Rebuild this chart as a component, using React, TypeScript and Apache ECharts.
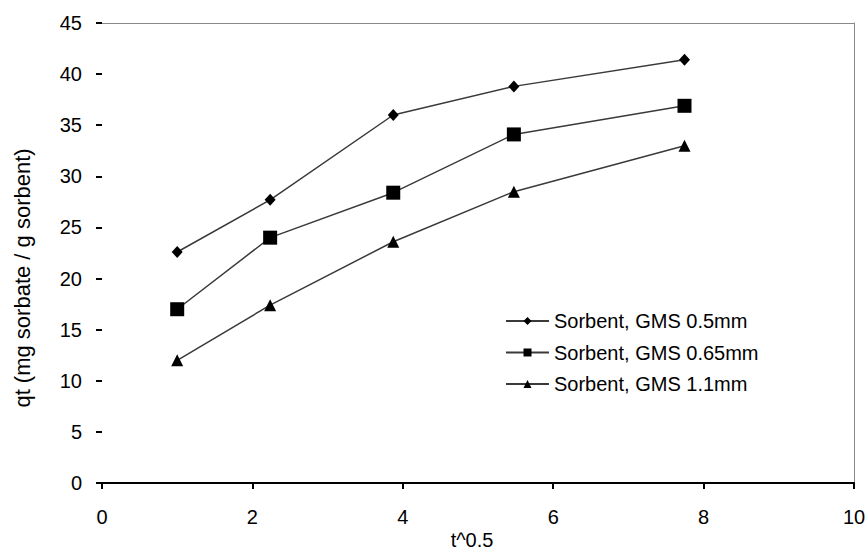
import React, { useEffect, useRef } from "react";
import * as echarts from "echarts";

const xValues = [1.0, 2.236, 3.873, 5.477, 7.746];
const seriesNames = ["Sorbent, GMS 0.5mm", "Sorbent, GMS 0.65mm", "Sorbent, GMS 1.1mm"];
const s05 = [22.6, 27.7, 36.0, 38.8, 41.4];
const s065 = [17.0, 24.0, 28.4, 34.1, 36.9];
const s11 = [12.0, 17.4, 23.6, 28.5, 33.0];
const xTicks = [0, 2, 4, 6, 8, 10];
const yTicks = [0, 5, 10, 15, 20, 25, 30, 35, 40, 45];
const xTitle = "t^0.5";
const yTitle = "qt (mg sorbate / g sorbent)";

const FONT = "Liberation Sans";

export default function App() {
  const ref = useRef<HTMLDivElement>(null);
  useEffect(() => {
    if (!ref.current) return;
    const chart = echarts.init(ref.current, null, { renderer: "svg" });
    const mk = (vals: number[]) => xValues.map((x, i) => [x, vals[i]]);
    const lineStyle = { color: "#3a3a3a", width: 1.5 };
    const itemStyle = { color: "#000" };
    chart.setOption({
      animation: false,
      backgroundColor: "#fff",
      textStyle: { fontFamily: FONT },
      grid: { left: 102, right: 13, top: 23, bottom: 67, containLabel: false, outerBoundsMode: "none" },
      legend: {
        orient: "vertical",
        left: 500,
        top: 306,
        itemWidth: 43,
        itemHeight: 10,
        itemGap: 11.5,
        textStyle: { fontFamily: FONT, fontSize: 20, color: "#000" },
        data: seriesNames,
      },
      graphic: [
        {
          type: "text",
          x: 22,
          y: 278,
          rotation: Math.PI / 2,
          style: {
            text: yTitle,
            font: `22px "${FONT}"`,
            fill: "#000",
            textAlign: "center",
            textVerticalAlign: "middle",
          },
        },
        {
          type: "text",
          x: 472,
          y: 540,
          style: {
            text: xTitle,
            font: `20px "${FONT}"`,
            fill: "#000",
            textAlign: "center",
            textVerticalAlign: "middle",
          },
        },
      ],
      xAxis: [
        {
          type: "value",
          min: xTicks[0],
          max: xTicks[xTicks.length - 1],
          interval: 2,
          axisLine: { show: true, lineStyle: { color: "#000", width: 2 } },
          axisTick: { show: true, inside: false, length: 6, lineStyle: { color: "#000", width: 2 } },
          axisLabel: { margin: 24, fontFamily: FONT, fontSize: 20, color: "#000" },
          splitLine: { show: false },
        },
        {
          type: "value",
          position: "top",
          min: xTicks[0],
          max: xTicks[xTicks.length - 1],
          axisLine: { show: true, onZero: false, lineStyle: { color: "#888", width: 1 } },
          axisTick: { show: false },
          axisLabel: { show: false },
          splitLine: { show: false },
        },
      ],
      yAxis: [
        {
          type: "value",
          min: yTicks[0],
          max: yTicks[yTicks.length - 1],
          interval: 5,
          axisLine: { show: false },
          axisTick: { show: true, length: 6, lineStyle: { color: "#000", width: 2 } },
          axisLabel: { margin: 20, fontFamily: FONT, fontSize: 20, color: "#000" },
          splitLine: { show: false },
        },
        {
          type: "value",
          position: "right",
          min: yTicks[0],
          max: yTicks[yTicks.length - 1],
          axisLine: { show: true, onZero: false, lineStyle: { color: "#888", width: 1 } },
          axisTick: { show: false },
          axisLabel: { show: false },
          splitLine: { show: false },
        },
      ],
      series: [
        {
          name: seriesNames[0],
          type: "line",
          data: mk(s05),
          symbol: "diamond",
          symbolSize: [11, 12],
          lineStyle,
          itemStyle,
        },
        {
          name: seriesNames[1],
          type: "line",
          data: mk(s065),
          symbol: "rect",
          symbolSize: 14,
          lineStyle,
          itemStyle,
        },
        {
          name: seriesNames[2],
          type: "line",
          data: mk(s11),
          symbol: "triangle",
          symbolSize: [12, 12],
          lineStyle,
          itemStyle,
        },
      ],
    });
    return () => chart.dispose();
  }, []);
  return <div ref={ref} style={{ width: 867, height: 550, position: "absolute", left: 0, top: 0 }} />;
}
